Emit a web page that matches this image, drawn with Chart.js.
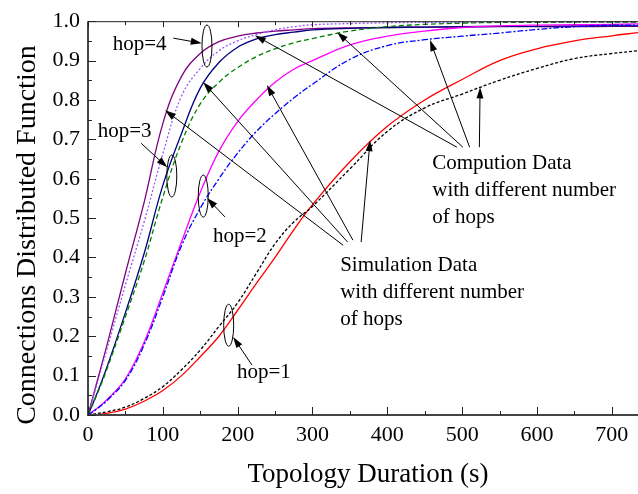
<!DOCTYPE html>
<html>
<head>
<meta charset="utf-8">
<script src="https://cdn.jsdelivr.net/npm/chart.js@4.4.1/dist/chart.umd.min.js"></script>
<style>
  html, body { margin: 0; padding: 0; background: #fff; }
</style>
</head>
<body>
<canvas id="chart" width="638" height="494"></canvas>
<script>
// topology duration (s), shared x grid for all curves
const durations = [0, 10, 25, 50, 75, 100, 125, 150, 175, 200, 225, 250, 275, 300, 350, 400, 450, 500, 550, 600, 650, 700, 735];

// simulation data (solid lines)
const hop4Sim = [0, 0.07, 0.175, 0.36, 0.54, 0.74, 0.86, 0.918, 0.948, 0.962, 0.97, 0.975, 0.978, 0.981, 0.983, 0.984, 0.985, 0.985, 0.986, 0.986, 0.986, 0.987, 0.987];
const hop3Sim = [0, 0.045, 0.12, 0.26, 0.41, 0.583, 0.715, 0.83, 0.895, 0.934, 0.955, 0.966, 0.972, 0.978, 0.982, 0.984, 0.985, 0.986, 0.987, 0.987, 0.988, 0.988, 0.988];
const hop2Sim = [0, 0.014, 0.038, 0.092, 0.185, 0.31, 0.44, 0.565, 0.67, 0.745, 0.8, 0.845, 0.878, 0.9, 0.94, 0.962, 0.975, 0.984, 0.988, 0.99, 0.991, 0.992, 0.993];
const hop1Sim = [0, 0.001, 0.004, 0.015, 0.035, 0.062, 0.1, 0.148, 0.2, 0.266, 0.334, 0.4, 0.47, 0.534, 0.643, 0.733, 0.8, 0.852, 0.9, 0.93, 0.95, 0.963, 0.971];

// computation data (dotted / dashed lines)
const hop4Comp = [0, 0.065, 0.165, 0.33, 0.49, 0.663, 0.81, 0.88, 0.925, 0.95, 0.966, 0.978, 0.986, 0.991, 0.994, 0.996, 0.997, 0.997, 0.998, 0.998, 0.998, 0.998, 0.998];
const hop3Comp = [0, 0.043, 0.115, 0.25, 0.39, 0.553, 0.692, 0.79, 0.845, 0.882, 0.91, 0.93, 0.945, 0.956, 0.975, 0.986, 0.992, 0.995, 0.997, 0.997, 0.998, 0.998, 0.998];
const hop2Comp = [0, 0.013, 0.036, 0.088, 0.178, 0.3, 0.43, 0.525, 0.6, 0.665, 0.72, 0.765, 0.805, 0.84, 0.903, 0.938, 0.953, 0.962, 0.97, 0.979, 0.986, 0.99, 0.99];
const hop1Comp = [0, 0.003, 0.008, 0.02, 0.042, 0.072, 0.115, 0.165, 0.225, 0.285, 0.36, 0.435, 0.49, 0.53, 0.625, 0.72, 0.78, 0.815, 0.85, 0.88, 0.905, 0.918, 0.925];

const xTitle = 'Topology Duration (s)';
const yTitle = 'Connections Distributed Function';

// annotations, in data units
const hopMarks = [
  { text: 'hop=4', textAt: [33, 0.926], ellipse: [159, 0.937], from: [114, 0.957], to: [152, 0.944] },
  { text: 'hop=3', textAt: [13, 0.706], ellipse: [112, 0.607], from: [71, 0.690], to: [106, 0.629] },
  { text: 'hop=2', textAt: [167, 0.439], ellipse: [154, 0.556], from: [183, 0.503], to: [159, 0.551] },
  { text: 'hop=1', textAt: [199, 0.094], ellipse: [188, 0.228], from: [219, 0.127], to: [194, 0.198] }
];
const groupNotes = [
  { lines: ['Compution Data', 'with different number', 'of hops'], textAt: [460, 0.624],
    arrows: [[493, 0.680, 223, 0.964], [501, 0.680, 333, 0.972], [510, 0.680, 457, 0.952], [523, 0.680, 524, 0.832]] },
  { lines: ['Simulation Data', 'with different number', 'of hops'], textAt: [337, 0.365],
    arrows: [[341, 0.431, 103, 0.774], [347, 0.439, 154, 0.845], [354, 0.444, 239, 0.838], [365, 0.439, 377, 0.698]] }
];

const FONT = "'Liberation Serif', 'Times New Roman', serif";

function series(values, color, dash) {
    return {
        data: durations.map((d, i) => ({ x: d, y: values[i] })),
        borderColor: color,
        borderWidth: 1.3,
        borderDash: dash,
        pointRadius: 0,
        fill: false,
        tension: 0.4
    };
}

function arrow(ctx, x1, y1, x2, y2) {
    const ang = Math.atan2(y2 - y1, x2 - x1);
    const len = 11, half = 3.5;
    ctx.beginPath();
    ctx.moveTo(x1, y1);
    ctx.lineTo(x2 - Math.cos(ang) * len * 0.8, y2 - Math.sin(ang) * len * 0.8);
    ctx.stroke();
    ctx.beginPath();
    ctx.moveTo(x2, y2);
    ctx.lineTo(x2 - Math.cos(ang) * len - Math.sin(ang) * half, y2 - Math.sin(ang) * len + Math.cos(ang) * half);
    ctx.lineTo(x2 - Math.cos(ang) * len + Math.sin(ang) * half, y2 - Math.sin(ang) * len - Math.cos(ang) * half);
    ctx.closePath();
    ctx.fill();
}

const decorations = {
    id: 'decorations',
    afterDatasetsDraw(chart) {
        const { ctx, chartArea: a, scales: { x, y } } = chart;
        const px = v => x.getPixelForValue(v);
        const py = v => y.getPixelForValue(v);
        ctx.save();

        // frame: top line thin, left and bottom heavier
        ctx.strokeStyle = '#222';
        ctx.lineWidth = 1;
        ctx.beginPath();
        ctx.moveTo(a.left, a.top + 0.5);
        ctx.lineTo(a.right, a.top + 0.5);
        ctx.stroke();
        ctx.strokeStyle = '#444';
        ctx.lineWidth = 2;
        ctx.beginPath();
        ctx.moveTo(a.left, a.top);
        ctx.lineTo(a.left, a.bottom);
        ctx.lineTo(a.right, a.bottom);
        ctx.stroke();

        // inward tick marks
        ctx.lineWidth = 1;
        ctx.strokeStyle = '#222';
        for (let v = 0; v <= x.max; v += 50) {
            const major = v % 100 === 0;
            const xx = Math.round(px(v)) + 0.5;
            ctx.beginPath();
            ctx.moveTo(xx, a.bottom);
            ctx.lineTo(xx, a.bottom - (major ? 8 : 4));
            ctx.moveTo(xx, a.top);
            ctx.lineTo(xx, a.top + (major ? 6 : 4));
            ctx.stroke();
        }
        for (let i = 0; i <= 20; i++) {
            const yy = Math.round(py(i * 0.05)) + 0.5;
            ctx.beginPath();
            ctx.moveTo(a.left, yy);
            ctx.lineTo(a.left + (i % 2 === 0 ? 8 : 4), yy);
            ctx.stroke();
        }

        // hop ellipses, arrows and labels
        ctx.strokeStyle = '#000';
        ctx.fillStyle = '#000';
        ctx.lineWidth = 1;
        ctx.font = '21px ' + FONT;
        ctx.textBaseline = 'alphabetic';
        ctx.textAlign = 'left';
        hopMarks.forEach(m => {
            ctx.beginPath();
            ctx.ellipse(px(m.ellipse[0]), py(m.ellipse[1]), 5, 21, 0, 0, Math.PI * 2);
            ctx.stroke();
            arrow(ctx, px(m.from[0]), py(m.from[1]), px(m.to[0]), py(m.to[1]));
            ctx.fillText(m.text, px(m.textAt[0]), py(m.textAt[1]));
        });

        groupNotes.forEach(g => {
            g.arrows.forEach(r => arrow(ctx, px(r[0]), py(r[1]), px(r[2]), py(r[3])));
            g.lines.forEach((t, i) => ctx.fillText(t, px(g.textAt[0]), py(g.textAt[1]) + i * 27));
        });

        // axis titles
        ctx.textAlign = 'center';
        ctx.font = '27px ' + FONT;
        ctx.fillText(xTitle, (a.left + a.right) / 2 + 5, a.bottom + 67);
        ctx.translate(35, (a.top + a.bottom) / 2 + 17);
        ctx.rotate(-Math.PI / 2);
        ctx.font = '28px ' + FONT;
        ctx.fillText(yTitle, 0, 0);

        ctx.restore();
    }
};

new Chart(document.getElementById('chart').getContext('2d'), {
    type: 'line',
    data: {
        datasets: [
            series(hop1Comp, '#000000', [3, 2]),
            series(hop1Sim, '#ff0000', []),
            series(hop2Comp, '#0000ff', [6, 2, 2, 2]),
            series(hop2Sim, '#ff00ff', []),
            series(hop3Comp, '#008000', [5, 3]),
            series(hop3Sim, '#000080', []),
            series(hop4Comp, '#9955ff', [2, 2]),
            series(hop4Sim, '#800080', [])
        ]
    },
    options: {
        responsive: false,
        animation: false,
        devicePixelRatio: 1,
        layout: { padding: { top: 21, right: 0, left: 0, bottom: 0 } },
        plugins: {
            legend: { display: false },
            tooltip: { enabled: false }
        },
        scales: {
            x: {
                type: 'linear',
                min: 0,
                max: 735,
                afterFit: s => { s.height = 79; },
                grid: { display: false, drawTicks: false },
                border: { display: false },
                ticks: {
                    stepSize: 100,
                    includeBounds: false,
                    maxRotation: 0,
                    padding: 7,
                    color: '#000',
                    font: { family: FONT, size: 22 },
                    callback: v => (v % 100 === 0 ? v : '')
                }
            },
            y: {
                min: 0,
                max: 1,
                afterFit: s => { s.width = 88; },
                grid: { display: false, drawTicks: false },
                border: { display: false },
                ticks: {
                    stepSize: 0.1,
                    padding: 8,
                    color: '#000',
                    font: { family: FONT, size: 22 },
                    callback: v => v.toFixed(1)
                }
            }
        }
    },
    plugins: [decorations]
});
</script>
</body>
</html>
